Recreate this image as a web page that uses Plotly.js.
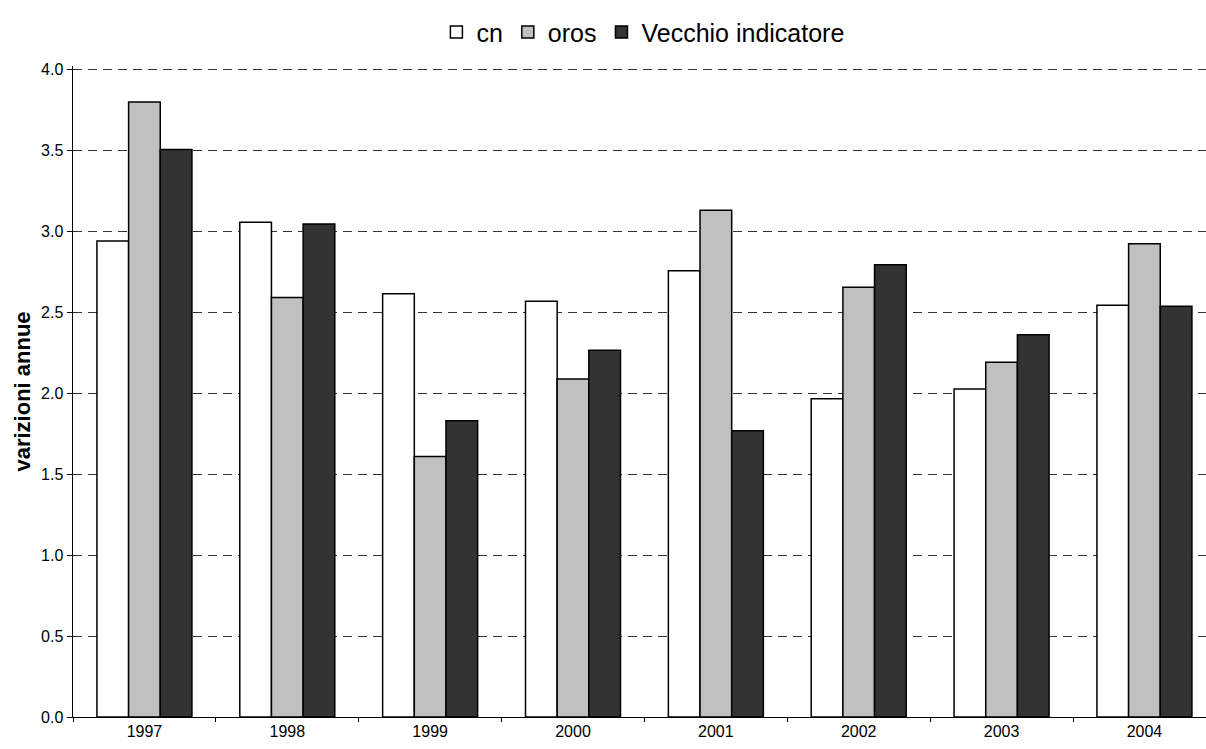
<!DOCTYPE html>
<html>
<head>
<meta charset="utf-8">
<script src="https://cdn.plot.ly/plotly-3.0.1.min.js"></script>
<style>html,body{margin:0;padding:0;background:#fff;}#chart{width:1206px;height:749px;}</style>
</head>
<body>
<div id="chart"></div>
<script>
var years = ['1997','1998','1999','2000','2001','2002','2003','2004'];
var cn = [2.94, 3.055, 2.614, 2.567, 2.756, 1.965, 2.025, 2.542];
var oros = [3.797, 2.59, 1.608, 2.087, 3.129, 2.653, 2.19, 2.923];
var vecchio = [3.505, 3.045, 1.829, 2.264, 1.767, 2.793, 2.36, 2.536];
var seriesNames = ['cn', 'oros', 'Vecchio indicatore'];
var yTicks = [0, 0.5, 1.0, 1.5, 2.0, 2.5, 3.0, 3.5, 4.0];

var colors = ['#ffffff', '#c0c0c0', '#333333'];
var data = [cn, oros, vecchio].map(function(v, i){
  return {
    type: 'bar', x: years, y: v, name: seriesNames[i],
    marker: {color: colors[i], line: {color: '#000', width: 1.5}},
    hoverinfo: 'x+y'
  };
});

var layout = {
  width: 1206, height: 749,
  margin: {l: 73, r: 0, t: 66, b: 32, pad: 0},
  paper_bgcolor: '#fff', plot_bgcolor: '#fff',
  font: {family: 'Liberation Sans, Arial, sans-serif', color: '#000'},
  barmode: 'group', bargap: 0.335, bargroupgap: 0,
  showlegend: true,
  legend: {orientation: 'h', x: 0.503, xanchor: 'center', y: 1.052, yanchor: 'middle',
           font: {size: 25, color: '#000'}, itemwidth: 30, traceorder: 'normal'},
  xaxis: {
    type: 'category', range: [-0.5, 7.431],
    showline: true, linecolor: '#000', linewidth: 1,
    ticks: 'outside', ticklen: 4, tickcolor: '#000', tickson: 'boundaries',
    showgrid: false, tickfont: {size: 16}, fixedrange: true
  },
  yaxis: {
    range: [0, 4.02], tickvals: yTicks, tickformat: '.1f',
    showline: true, linecolor: '#000', linewidth: 1.5,
    ticks: 'outside', ticklen: 5, tickcolor: '#000',
    showgrid: true, gridcolor: '#333', gridwidth: 1, griddash: '9px,6px',
    zeroline: false, tickfont: {size: 16},
    title: {text: '<b>varizioni annue</b>', font: {size: 22}, standoff: 4},
    automargin: false, fixedrange: true
  }
};

Plotly.newPlot('chart', data, layout, {displayModeBar: false, staticPlot: true});
</script>
</body>
</html>
